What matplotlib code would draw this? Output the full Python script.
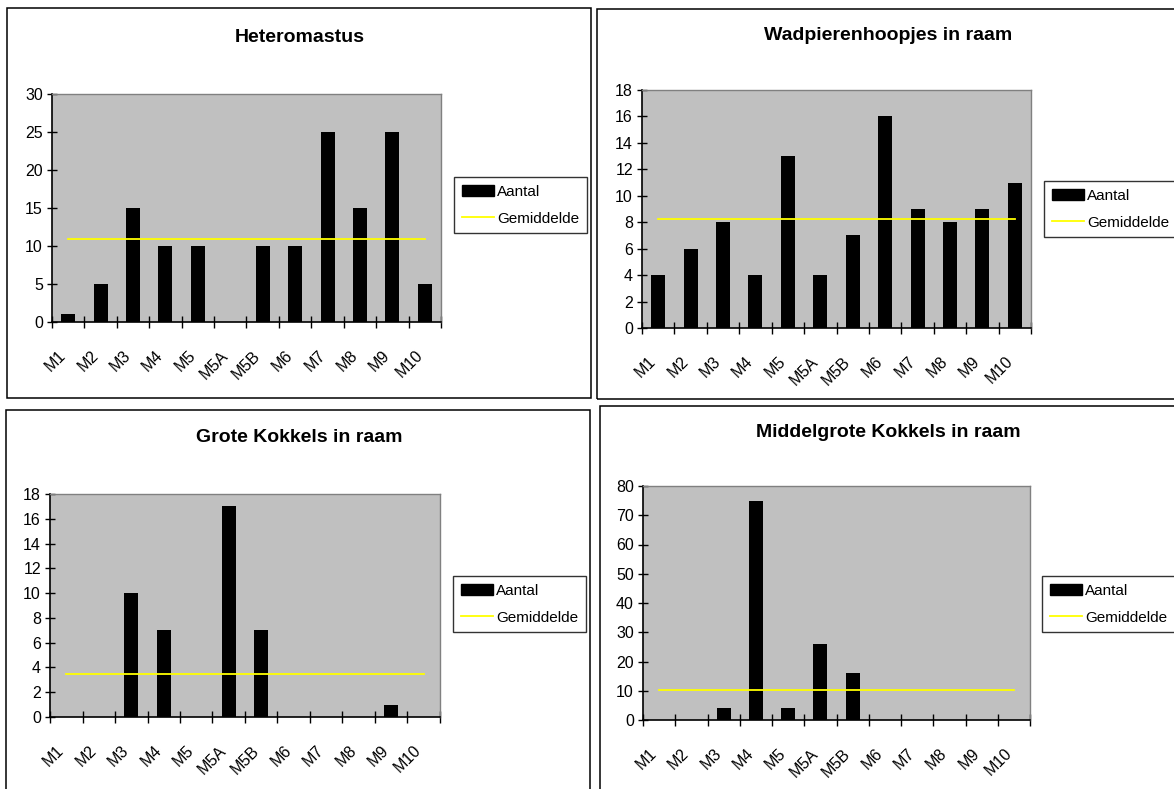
import matplotlib.pyplot as plt
import matplotlib.transforms as mtransforms
import numpy as np
from matplotlib.patches import Rectangle, Patch
from matplotlib.lines import Line2D

plt.rcParams['font.family'] = ['Liberation Sans', 'DejaVu Sans']

W, H = 1174, 789

stations = ["M1", "M2", "M3", "M4", "M5", "M5A", "M5B", "M6", "M7", "M8", "M9", "M10"]

heteromastus = [1, 5, 15, 10, 10, 0, 10, 10, 25, 15, 25, 5]
wadpieren = [4, 6, 8, 4, 13, 4, 7, 16, 9, 8, 9, 11]
grote_kokkels = [0, 0, 10, 7, 0, 17, 7, 0, 0, 0, 1, 0]
middelgrote_kokkels = [0, 0, 4, 75, 4, 26, 16, 0, 0, 0, 0, 0]

titles = ["Heteromastus", "Wadpierenhoopjes in raam",
          "Grote Kokkels in raam", "Middelgrote Kokkels in raam"]
series = [heteromastus, wadpieren, grote_kokkels, middelgrote_kokkels]
y_max = [30, 18, 18, 80]
y_step = [5, 2, 2, 10]

# pixel layout: frame box, plot area, legend box, title centre
frames = [(7, 8, 591, 398), (597, 9, 1180, 399), (6, 410, 590, 795), (600, 406, 1180, 795)]
plot_areas = [(52, 94, 441, 322), (642, 90, 1031, 328), (50, 494, 440, 717), (643, 486, 1030, 720)]
legend_boxes = [(454, 177), (1044, 181), (453, 576), (1042, 576)]
title_pos = [(300, 38), (888, 35), (299, 438), (888, 433)]


def fx(x):
    return x / W


def fy(y):
    return 1 - y / H


fig = plt.figure(figsize=(W / 100, H / 100), dpi=100)
# category labels sit a little left of and below each category centre
label_offset = mtransforms.ScaledTranslation(-10 / 100, -26 / 100, fig.dpi_scale_trans)

for i in range(4):
    x0, y0, x1, y1 = frames[i]
    fig.patches.append(Rectangle((fx(x0), fy(y1)), fx(x1 - x0), (y1 - y0) / H,
                                 transform=fig.transFigure, fill=False,
                                 edgecolor="black", linewidth=1.1))

    l, t, r, b = plot_areas[i]
    ax = fig.add_axes([fx(l), fy(b), fx(r - l), (b - t) / H])
    ax.set_facecolor("#C0C0C0")
    x = np.arange(len(stations))
    vals = series[i]
    ax.bar(x, vals, width=0.43, color="black", zorder=2)
    mean = np.mean(vals)
    ax.plot([x[0], x[-1]], [mean, mean], color="#FFFF00", linewidth=1.3, zorder=3)

    ax.set_xlim(-0.5, len(stations) - 0.5)
    ax.set_ylim(0, y_max[i])
    ax.set_yticks(np.arange(0, y_max[i] + 1, y_step[i]))
    ax.set_xticks(np.arange(-0.5, len(stations), 1))
    ax.set_xticklabels([])
    for xi, name in zip(x, stations):
        ax.text(xi, 0, name, transform=ax.get_xaxis_transform() + label_offset,
                rotation=45, ha="right", va="top", rotation_mode="anchor",
                fontsize=11.5)
    ax.tick_params(axis="x", direction="inout", length=8.5, width=1)
    ax.tick_params(axis="y", direction="inout", length=7, width=1, labelsize=11.5, pad=3)

    for s in ("top", "right"):
        ax.spines[s].set_color("#808080")
        ax.spines[s].set_linewidth(1)
    for s in ("left", "bottom"):
        ax.spines[s].set_color("black")
        ax.spines[s].set_linewidth(1.2)

    tx, ty = title_pos[i]
    fig.text(fx(tx), fy(ty), titles[i], ha="center", va="center",
             fontsize=14, fontweight="bold")

    lx, ly = legend_boxes[i]
    handles = [Patch(facecolor="black", edgecolor="black"),
               Line2D([0], [0], color="#FFFF00", linewidth=1.3)]
    leg = fig.legend(handles, ["Aantal", "Gemiddelde"], loc="upper left",
                     bbox_to_anchor=(fx(lx), fy(ly)), fontsize=11,
                     frameon=True, fancybox=False, handlelength=2.1,
                     handletextpad=0.2, borderpad=0.5, labelspacing=0.85,
                     borderaxespad=0)
    leg.get_frame().set_edgecolor("black")
    leg.get_frame().set_linewidth(1)

fig.savefig("out.png", dpi=100)
